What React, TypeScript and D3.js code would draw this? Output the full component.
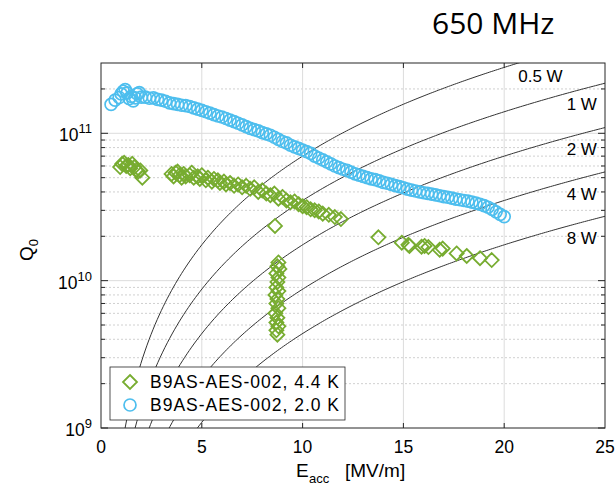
import React, { useEffect, useRef } from 'react';
import * as d3 from 'd3';

// 2.0 K curve: Eacc [MV/m] and Q0 [x1e10]
const blueE = [
  0.5, 0.7, 0.9, 1.0, 1.1, 1.2, 1.3, 1.4, 1.5, 1.6, 1.7, 1.8, 1.9, 2.0, 2.2, 2.4, 2.6, 2.8, 3.0,
  3.2, 3.4, 3.6, 3.8, 4.0, 4.2, 4.4, 4.6, 4.8, 5.0, 5.2, 5.4, 5.6, 5.8, 6.0, 6.2, 6.4, 6.6, 6.8,
  7.0, 7.2, 7.4, 7.6, 7.8, 8.0, 8.2, 8.4, 8.6, 8.8, 9.0, 9.2, 9.4, 9.6, 9.8, 10.0, 10.2, 10.4,
  10.6, 10.8, 11.0, 11.2, 11.4, 11.6, 11.8, 12.0, 12.2, 12.4, 12.6, 12.8, 13.0, 13.2, 13.4, 13.6,
  13.8, 14.0, 14.2, 14.4, 14.6, 14.8, 15.0, 15.2, 15.4, 15.6, 15.8, 16.0, 16.2, 16.4, 16.6, 16.8,
  17.0, 17.2, 17.4, 17.6, 17.8, 18.0, 18.2, 18.4, 18.6, 18.8, 19.0, 19.2, 19.4, 19.6, 19.8, 20.0,
];
const blueQ = [
  15.7, 16.8, 17.5, 18.5, 19.3, 19.8, 18.8, 17.2, 17.8, 16.6, 17.4, 18.5, 18.9, 17.6, 17.6, 17.3,
  17.4, 17.0, 16.8, 16.5, 16.1, 15.9, 15.7, 15.5, 15.4, 15.2, 14.9, 14.6, 14.3, 14.0, 13.7, 13.4,
  13.1, 12.9, 12.6, 12.3, 12.0, 11.7, 11.4, 11.1, 10.8, 10.6, 10.4, 10.1, 9.9, 9.7, 9.4, 9.1, 8.8,
  8.6, 8.3, 8.1, 7.9, 7.7, 7.5, 7.3, 7.0, 6.8, 6.6, 6.4, 6.2, 6.0, 5.85, 5.7, 5.6, 5.45, 5.3, 5.2,
  5.1, 5.0, 4.9, 4.85, 4.75, 4.65, 4.58, 4.5, 4.42, 4.35, 4.27, 4.18, 4.12, 4.06, 4.0, 3.95, 3.91,
  3.87, 3.82, 3.77, 3.72, 3.68, 3.63, 3.58, 3.54, 3.5, 3.46, 3.41, 3.36, 3.3, 3.23, 3.15, 3.05,
  2.93, 2.82, 2.72,
];

// 4.4 K curve: Eacc [MV/m] and Q0 [x1e10]
const greenE = [
  0.95, 1.05, 1.15, 1.25, 1.35, 1.45, 1.55, 1.65, 1.75, 1.85, 1.95, 2.05,
  3.5, 3.6, 3.7, 3.8, 3.9, 4.0, 4.1, 4.2, 4.4, 4.5, 4.6, 4.8, 4.9, 5.0, 5.2, 5.3, 5.5, 5.6, 5.8,
  5.9, 6.1, 6.2, 6.4, 6.6, 6.8, 7.0, 7.2, 7.4, 7.6, 7.8, 8.0, 8.2, 8.4, 8.6, 8.8, 9.0, 9.2, 9.4,
  9.6, 9.8, 10.0, 10.2, 10.4, 10.6, 10.8, 11.0, 11.3, 11.6, 11.9,
  8.63,
  8.8, 8.75, 8.85, 8.7, 8.8, 8.75, 8.7, 8.8, 8.65, 8.75, 8.7, 8.8, 8.65, 8.75, 8.7, 8.8, 8.7, 8.75,
  13.76, 14.92, 15.25, 15.3, 15.9, 16.05, 16.24, 16.8, 16.95, 17.64, 18.14, 18.8, 19.38,
];
const greenQ = [
  5.9, 6.2, 6.3, 6.0, 6.1, 5.8, 6.2, 5.9, 5.6, 5.5, 5.6, 5.0,
  5.3, 5.1, 5.4, 5.5, 5.2, 5.0, 5.3, 5.1, 5.2, 5.4, 5.0, 5.1, 4.9, 5.2, 4.8, 5.0, 4.7, 4.9, 4.8,
  4.6, 4.7, 4.5, 4.6, 4.4, 4.5, 4.3, 4.4, 4.2, 4.3, 4.0, 4.1, 3.9, 3.8, 3.9, 3.6, 3.7, 3.5, 3.4,
  3.45, 3.3, 3.2, 3.15, 3.05, 3.0, 2.95, 2.85, 2.8, 2.7, 2.62,
  2.35,
  1.33, 1.25, 1.2, 1.12, 1.05, 0.98, 0.9, 0.85, 0.8, 0.75, 0.7, 0.65, 0.6, 0.56, 0.52, 0.49, 0.46, 0.43,
  1.97, 1.81, 1.75, 1.72, 1.7, 1.72, 1.69, 1.62, 1.65, 1.53, 1.47, 1.42, 1.38,
];

// iso-power lines: Q0 = K * Eacc^2 / P
const K = 3.5e8;
const powers = [0.5, 1, 2, 4, 8];
const powerLabels = ['0.5 W', '1 W', '2 W', '4 W', '8 W'];
const labelE = [22.9, 24.6, 24.6, 24.6, 24.6];
const labelQ = [2.45e11, 1.58e11, 7.8e10, 3.87e10, 1.95e10];

const xTicks = [0, 5, 10, 15, 20, 25];
const yDecades = [9, 10, 11];
const legendLabels = ['B9AS-AES-002, 4.4 K', 'B9AS-AES-002, 2.0 K'];

const GREEN = '#77AC30';
const BLUE = '#4DBEEE';
const AXIS = '#262626';
const FONT = '"Liberation Sans", Arial, sans-serif';

const App = () => {
  const svgRef = useRef(null);

  useEffect(() => {
    const svg = d3.select(svgRef.current);
    svg.selectAll('*').remove();

    const margin = { top: 63, right: 11, bottom: 58, left: 101 };
    const width = 616 - margin.left - margin.right;
    const height = 486 - margin.top - margin.bottom;

    const x = d3.scaleLinear().domain([0, 25]).range([0, width]);
    const y = d3.scaleLog().domain([1e9, 3e11]).range([height, 0]);

    svg
      .append('text')
      .attr('x', 432)
      .attr('y', 34)
      .attr('font-family', '"Open Sans", sans-serif')
      .attr('font-size', 30)
      .attr('fill', '#000')
      .text('650 MHz');

    svg
      .append('defs')
      .append('clipPath')
      .attr('id', 'plotclip')
      .append('rect')
      .attr('width', width)
      .attr('height', height);

    const g = svg.append('g').attr('transform', `translate(${margin.left},${margin.top})`);

    // minor log values
    const minors = [];
    yDecades.forEach((d) => {
      for (let m = 2; m <= 9; m++) {
        const v = m * Math.pow(10, d);
        if (v < 3e11) minors.push(v);
      }
    });
    const majors = yDecades.map((d) => Math.pow(10, d));

    // grid
    g.append('g')
      .selectAll('line')
      .data(minors)
      .enter()
      .append('line')
      .attr('x1', 0)
      .attr('x2', width)
      .attr('y1', (d) => y(d))
      .attr('y2', (d) => y(d))
      .attr('stroke', '#c4c4c4')
      .attr('stroke-width', 0.8)
      .attr('stroke-dasharray', '2,2');

    g.append('g')
      .selectAll('line')
      .data(majors.slice(1))
      .enter()
      .append('line')
      .attr('x1', 0)
      .attr('x2', width)
      .attr('y1', (d) => y(d))
      .attr('y2', (d) => y(d))
      .attr('stroke', '#dcdcdc')
      .attr('stroke-width', 1);

    g.append('g')
      .selectAll('line')
      .data(xTicks.slice(1, -1))
      .enter()
      .append('line')
      .attr('x1', (d) => x(d))
      .attr('x2', (d) => x(d))
      .attr('y1', 0)
      .attr('y2', height)
      .attr('stroke', '#dcdcdc')
      .attr('stroke-width', 1);

    // iso-power curves
    const plot = g.append('g').attr('clip-path', 'url(#plotclip)');
    const line = d3
      .line()
      .x((d) => x(d[0]))
      .y((d) => y(d[1]));
    powers.forEach((p) => {
      const e0 = Math.sqrt((1e9 * p) / K) * 0.98;
      const e1 = Math.min(25, Math.sqrt((3.2e11 * p) / K));
      const pts = d3.range(0, 201).map((i) => {
        const e = e0 + ((e1 - e0) * i) / 200;
        return [e, (K * e * e) / p];
      });
      plot
        .append('path')
        .attr('d', line(pts))
        .attr('fill', 'none')
        .attr('stroke', '#333')
        .attr('stroke-width', 1);
    });

    powerLabels.forEach((t, i) => {
      g.append('text')
        .attr('x', x(labelE[i]))
        .attr('y', y(labelQ[i]))
        .attr('dy', '0.35em')
        .attr('text-anchor', 'end')
        .attr('font-family', FONT)
        .attr('font-size', 17)
        .attr('fill', '#000')
        .text(t);
    });

    // 4.4 K diamonds
    const dia = (s) => `M0,${-s}L${s},0L0,${s}L${-s},0Z`;
    plot
      .append('g')
      .selectAll('path')
      .data(greenE.map((e, i) => [e, greenQ[i] * 1e10]))
      .enter()
      .append('path')
      .attr('transform', (d) => `translate(${x(d[0])},${y(d[1])})`)
      .attr('d', dia(7))
      .attr('fill', 'none')
      .attr('stroke', GREEN)
      .attr('stroke-width', 1.8);

    // 2.0 K circles
    plot
      .append('g')
      .selectAll('circle')
      .data(blueE.map((e, i) => [e, blueQ[i] * 1e10]))
      .enter()
      .append('circle')
      .attr('cx', (d) => x(d[0]))
      .attr('cy', (d) => y(d[1]))
      .attr('r', 6)
      .attr('fill', 'none')
      .attr('stroke', BLUE)
      .attr('stroke-width', 1.7);

    // axes box and ticks
    g.append('rect')
      .attr('width', width)
      .attr('height', height)
      .attr('fill', 'none')
      .attr('stroke', AXIS)
      .attr('stroke-width', 1);

    const ticks = g.append('g').attr('stroke', AXIS).attr('stroke-width', 1);
    xTicks.slice(1, -1).forEach((t) => {
      ticks.append('line').attr('x1', x(t)).attr('x2', x(t)).attr('y1', height).attr('y2', height - 5);
      ticks.append('line').attr('x1', x(t)).attr('x2', x(t)).attr('y1', 0).attr('y2', 5);
    });
    majors.forEach((v) => {
      ticks.append('line').attr('x1', 0).attr('x2', 7).attr('y1', y(v)).attr('y2', y(v));
      ticks.append('line').attr('x1', width).attr('x2', width - 7).attr('y1', y(v)).attr('y2', y(v));
    });
    minors.forEach((v) => {
      ticks.append('line').attr('x1', 0).attr('x2', 4).attr('y1', y(v)).attr('y2', y(v));
      ticks.append('line').attr('x1', width).attr('x2', width - 4).attr('y1', y(v)).attr('y2', y(v));
    });

    // tick labels
    xTicks.forEach((t) => {
      g.append('text')
        .attr('x', x(t))
        .attr('y', height + 25)
        .attr('text-anchor', 'middle')
        .attr('font-family', FONT)
        .attr('font-size', 17.5)
        .attr('fill', '#000')
        .text(t);
    });
    yDecades.forEach((d) => {
      const tx = g
        .append('text')
        .attr('x', -9)
        .attr('y', y(Math.pow(10, d)) + 8)
        .attr('text-anchor', 'end')
        .attr('font-family', FONT)
        .attr('font-size', 17.5)
        .attr('fill', '#000');
      tx.append('tspan').text('10');
      tx.append('tspan').attr('dy', -8).attr('font-size', 13).text(d);
    });

    // axis titles
    const xl = svg.append('g').attr('font-family', FONT).attr('fill', '#000');
    xl.append('text').attr('x', 296).attr('y', 477).attr('font-size', 19).text('E');
    xl.append('text').attr('x', 309).attr('y', 483).attr('font-size', 13).text('acc');
    xl.append('text').attr('x', 345).attr('y', 477).attr('font-size', 19).text('[MV/m]');

    const yl = svg
      .append('text')
      .attr('transform', 'translate(33,261) rotate(-90)')
      .attr('font-family', FONT)
      .attr('font-size', 19)
      .attr('fill', '#000');
    yl.append('tspan').text('Q');
    yl.append('tspan').attr('dy', 5).attr('font-size', 13).text('0');

    // legend
    const lg = svg.append('g');
    lg.append('rect')
      .attr('x', 110)
      .attr('y', 367)
      .attr('width', 235)
      .attr('height', 53)
      .attr('fill', '#fff')
      .attr('stroke', AXIS)
      .attr('stroke-width', 0.8);
    lg.append('path')
      .attr('transform', 'translate(130,382)')
      .attr('d', dia(7))
      .attr('fill', 'none')
      .attr('stroke', GREEN)
      .attr('stroke-width', 1.8);
    lg.append('circle')
      .attr('cx', 130)
      .attr('cy', 405)
      .attr('r', 6)
      .attr('fill', 'none')
      .attr('stroke', BLUE)
      .attr('stroke-width', 1.7);
    legendLabels.forEach((t, i) => {
      lg.append('text')
        .attr('x', 150)
        .attr('y', 388 + i * 23)
        .attr('font-family', FONT)
        .attr('font-size', 17.5)
        .attr('textLength', 189)
        .attr('fill', '#000')
        .text(t);
    });
  }, []);

  return (
    <svg
      ref={svgRef}
      width={616}
      height={486}
      style={{ position: 'absolute', left: 0, top: 0, background: '#fff' }}
    ></svg>
  );
};

export default App;
